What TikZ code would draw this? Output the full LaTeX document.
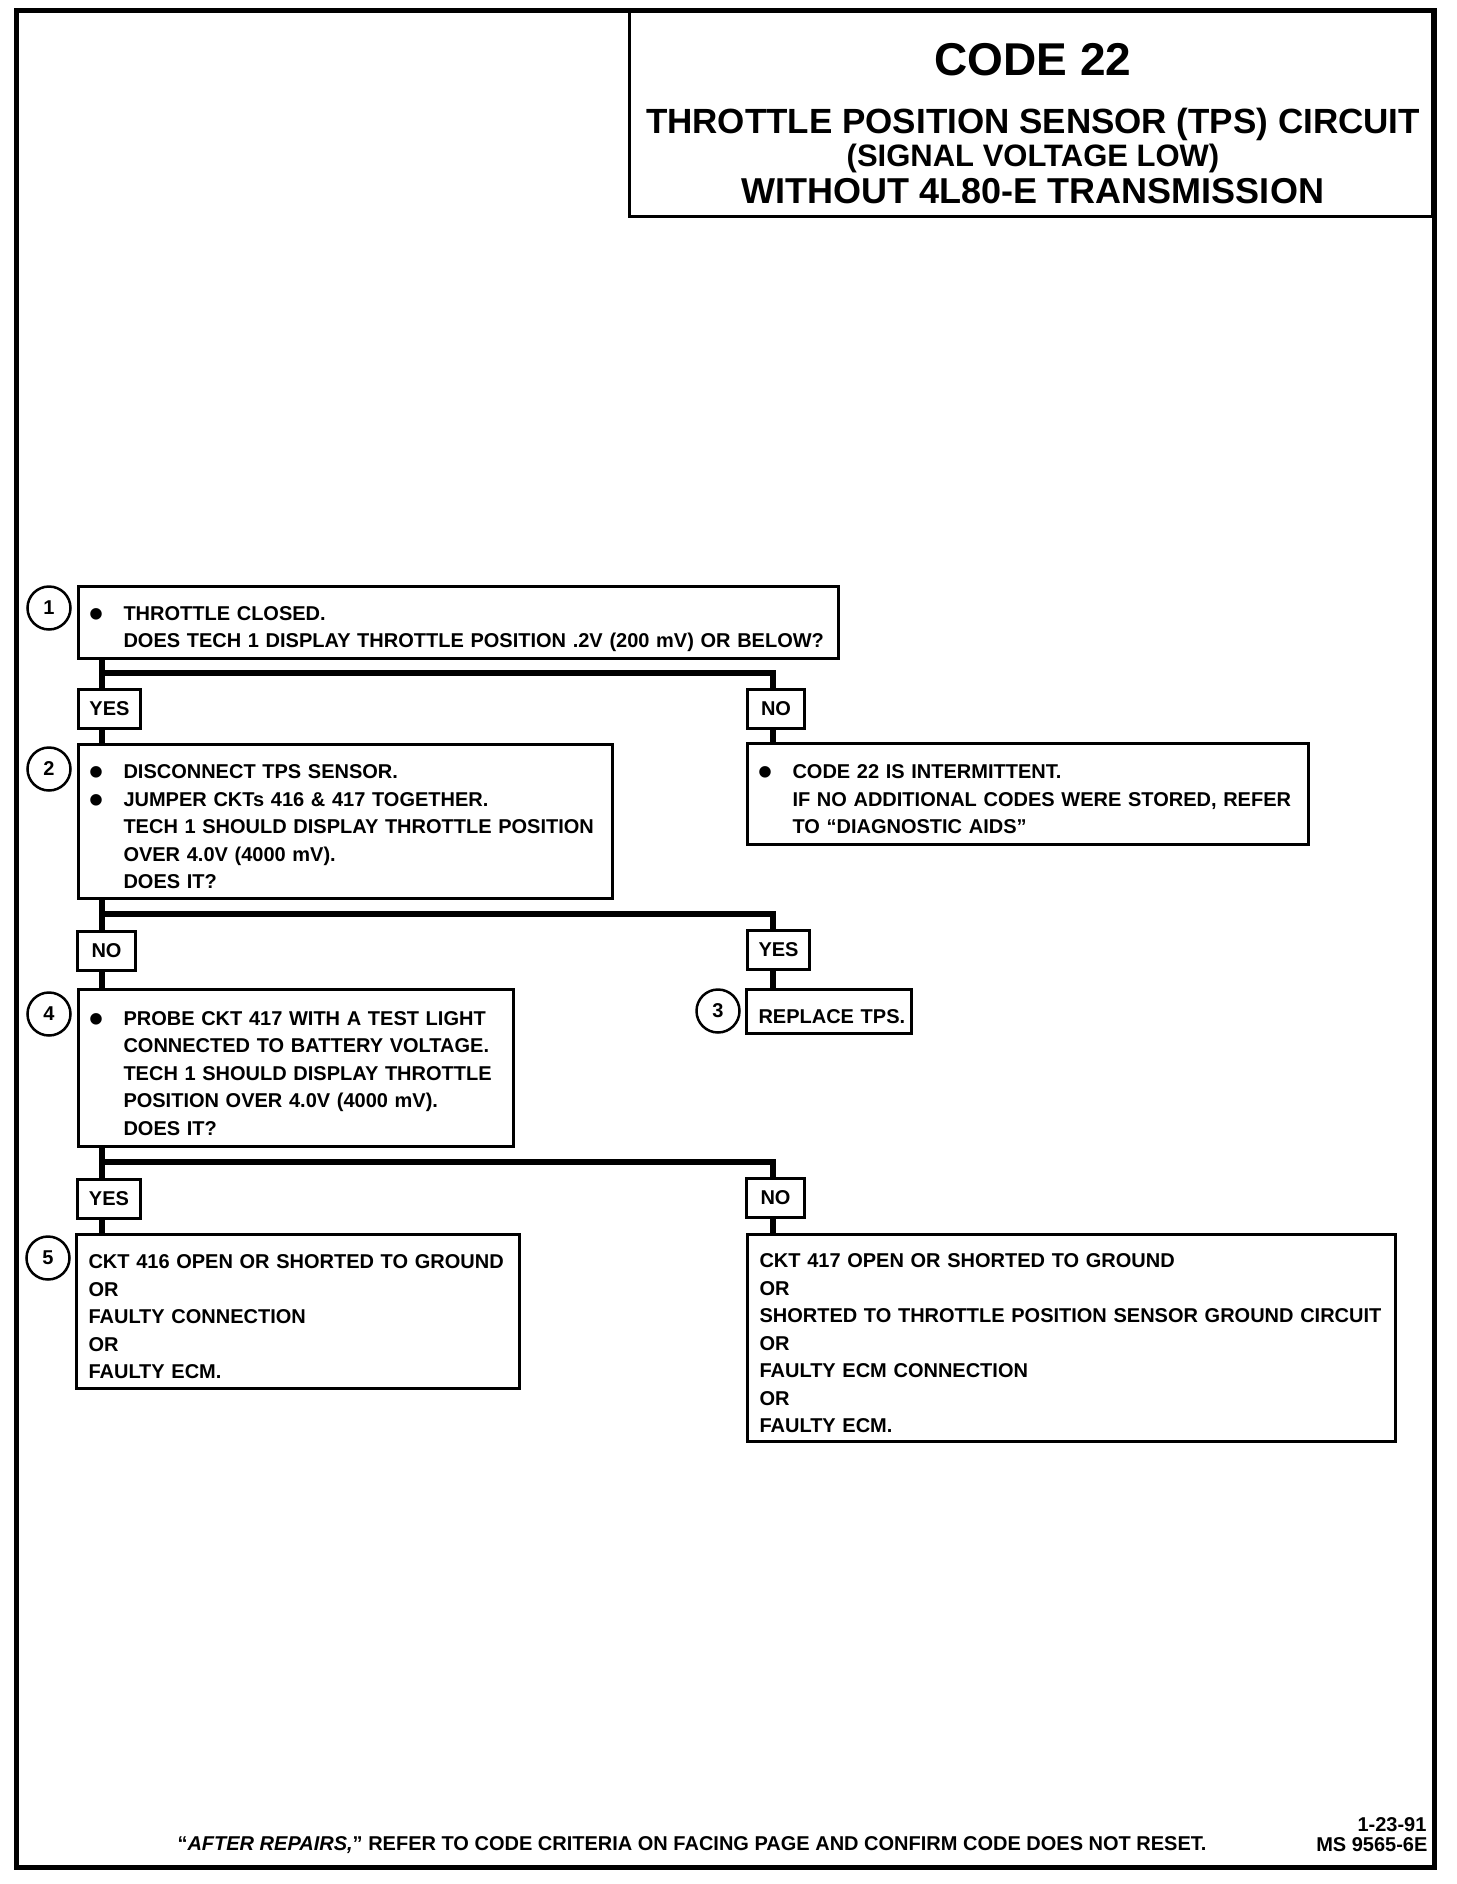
\documentclass[tikz,border=0pt]{standalone}
\usepackage{fontspec}
\setmainfont{Liberation Sans}
\newcommand\dotmark{\smash{\raisebox{-7pt}{\scalebox{2}{\textbullet}}}}
\newcommand\itemline[1]{\mbox{\hspace*{11pt}\makebox[34pt][l]{\dotmark}#1}}
\newcommand\contline[1]{\mbox{\hspace*{45pt}#1}}
\newcommand\plainline[1]{\mbox{\hspace*{12pt}#1}}
\begin{document}
\begin{tikzpicture}[x=1pt, y=-1pt,
    box/.style={draw, line width=3pt, anchor=north west, inner sep=0pt, align=left,
        font=\bfseries\fontsize{20}{27.5}\selectfont,
        execute at begin node={\rule{0pt}{27pt}},
        execute at end node={\rule[-3pt]{0pt}{0pt}}},
    tag/.style={draw, line width=3pt, anchor=north west, inner sep=0pt,
        minimum height=39pt, font=\bfseries\fontsize{20}{24}\selectfont},
    num/.style={draw, circle, line width=2.5pt, minimum size=43pt, inner sep=0pt,
        font=\bfseries\fontsize{20}{24}\selectfont},
    flow/.style={line width=6.5pt}]
    \useasboundingbox (0, 0) rectangle (1456, 1884);
    \draw[line width=5pt] (16.5, 10.5) rectangle (1434, 1867);

    % heading
    \node[draw, line width=3pt, anchor=north east, minimum width=803pt, minimum height=204.5pt, inner sep=0pt] (head) at (1434, 10.5) {};
    \node[anchor=base, font=\bfseries\fontsize{46}{50}\selectfont] (code) at (1033, 75) {CODE 22};
    \node[anchor=base, font=\bfseries\fontsize{35}{40}\selectfont] (name) at (1033, 133) {THROTTLE POSITION SENSOR (TPS) CIRCUIT};
    \node[anchor=base, font=\bfseries\fontsize{31}{36}\selectfont] (cond) at (1033, 166) {(SIGNAL VOLTAGE LOW)};
    \node[anchor=base, font=\bfseries\fontsize{36}{40}\selectfont] (trans) at (1033, 203) {WITHOUT 4L80-E TRANSMISSION};

    % steps
    \node[box, text width=760pt, minimum height=72pt] (q1) at (77, 585) {\itemline{THROTTLE CLOSED.}\\
        \contline{DOES TECH 1 DISPLAY THROTTLE POSITION .2V (200 mV) OR BELOW?}};
    \node[box, text width=534pt, minimum height=154pt] (q2) at (77, 743) {\itemline{DISCONNECT TPS SENSOR.}\\
        \itemline{JUMPER CKTs 416 \& 417 TOGETHER.}\\
        \contline{TECH 1 SHOULD DISPLAY THROTTLE POSITION}\\
        \contline{OVER 4.0V (4000 mV).}\\
        \contline{DOES IT?}};
    \node[box, text width=561pt, minimum height=101pt] (r1) at (746, 742) {\itemline{CODE 22 IS INTERMITTENT.}\\
        \contline{IF NO ADDITIONAL CODES WERE STORED, REFER}\\
        \contline{TO “DIAGNOSTIC AIDS”}};
    \node[box, text width=165pt, minimum height=44pt] (r3) at (745, 988) {\plainline{REPLACE TPS.}};
    \node[box, text width=435pt, minimum height=157pt] (q4) at (77, 988) {\itemline{PROBE CKT 417 WITH A TEST LIGHT}\\
        \contline{CONNECTED TO BATTERY VOLTAGE.}\\
        \contline{TECH 1 SHOULD DISPLAY THROTTLE}\\
        \contline{POSITION OVER 4.0V (4000 mV).}\\
        \contline{DOES IT?}};
    \node[box, text width=443pt, minimum height=154pt] (r5) at (75, 1233) {\plainline{CKT 416 OPEN OR SHORTED TO GROUND}\\
        \plainline{OR}\\
        \plainline{FAULTY CONNECTION}\\
        \plainline{OR}\\
        \plainline{FAULTY ECM.}};
    \node[box, text width=648pt, minimum height=207pt] (r6) at (746, 1233) {\plainline{CKT 417 OPEN OR SHORTED TO GROUND}\\
        \plainline{OR}\\
        \plainline{SHORTED TO THROTTLE POSITION SENSOR GROUND CIRCUIT}\\
        \plainline{OR}\\
        \plainline{FAULTY ECM CONNECTION}\\
        \plainline{OR}\\
        \plainline{FAULTY ECM.}};

    % step numbers
    \node[num] (c1) at (49, 608) {1};
    \node[num] (c2) at (49, 769) {2};
    \node[num] (c3) at (718, 1011) {3};
    \node[num] (c4) at (49, 1014) {4};
    \node[num] (c5) at (48, 1258) {5};

    % answers
    \node[tag, minimum width=62pt] (yes1) at (77, 688) {YES};
    \node[tag, minimum width=57pt] (no1) at (746, 688) {NO};
    \node[tag, minimum width=58pt] (no2) at (76, 930) {NO};
    \node[tag, minimum width=62pt] (yes2) at (746, 929) {YES};
    \node[tag, minimum width=63pt] (yes3) at (76, 1178) {YES};
    \node[tag, minimum width=58pt] (no3) at (745, 1177) {NO};

    % branches
    \coordinate (j1) at (102, 673);
    \coordinate (k1) at (773, 673);
    \coordinate (j2) at (102, 914);
    \coordinate (k2) at (773, 914);
    \coordinate (j3) at (102, 1162);
    \coordinate (k3) at (773, 1162);
    \draw[flow] (q1.south -| j1) -- (yes1.north -| j1);
    \draw[flow] (j1) -- (k1) -- (no1.north -| k1);
    \draw[flow] (yes1.south -| j1) -- (q2.north -| j1);
    \draw[flow] (no1.south -| k1) -- (r1.north -| k1);
    \draw[flow] (q2.south -| j2) -- (no2.north -| j2);
    \draw[flow] (j2) -- (k2) -- (yes2.north -| k2);
    \draw[flow] (no2.south -| j2) -- (q4.north -| j2);
    \draw[flow] (yes2.south -| k2) -- (r3.north -| k2);
    \draw[flow] (q4.south -| j3) -- (yes3.north -| j3);
    \draw[flow] (j3) -- (k3) -- (no3.north -| k3);
    \draw[flow] (yes3.south -| j3) -- (r5.north -| j3);
    \draw[flow] (no3.south -| k3) -- (r6.north -| k3);

    % footer
    \node[anchor=base, font=\bfseries\fontsize{20}{24}\selectfont] (note) at (692, 1850) {``\textit{AFTER REPAIRS,}'' REFER TO CODE CRITERIA ON FACING PAGE AND CONFIRM CODE DOES NOT RESET.};
    \node[anchor=base east, font=\bfseries\fontsize{20}{24}\selectfont] (date) at (1430, 1831) {1-23-91};
    \node[anchor=base east, font=\bfseries\fontsize{20}{24}\selectfont] (ref) at (1431, 1851) {MS 9565-6E};
\end{tikzpicture}
\end{document}
